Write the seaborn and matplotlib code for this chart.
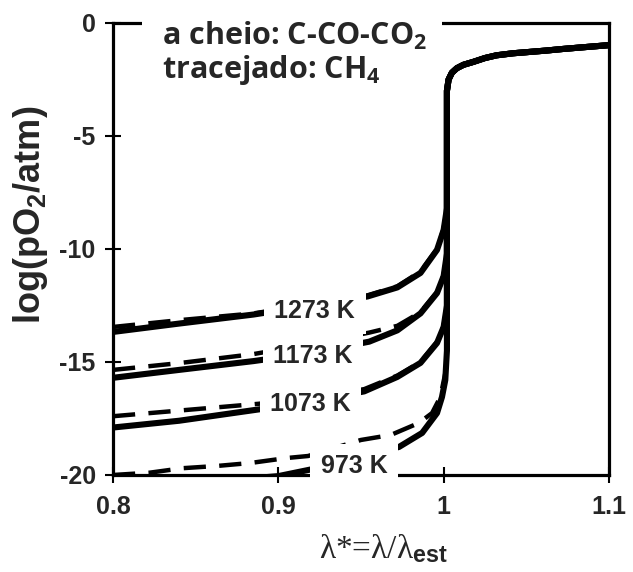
import numpy as np
import pandas as pd
import matplotlib
matplotlib.use("Agg")
import matplotlib.pyplot as plt
from matplotlib.patches import Rectangle
import seaborn as sns

# ---------------- DATOS ---------------- #
# lambda* y log(pO2), por temperatura
# rama comun para lambda* > 1
lam_sup = [1.002, 1.003, 1.005, 1.008, 1.012, 1.018, 1.025, 1.032, 1.042, 1.052, 1.062, 1.072, 1.085, 1.1]
log_sup = [-3.0, -2.5, -2.2, -2.0, -1.85, -1.72, -1.55, -1.43, -1.34, -1.28, -1.22, -1.15, -1.07, -0.98]

lam_1273 = [0.8, 0.84, 0.885, 0.92, 0.954, 0.972, 0.986, 0.996, 1.0, 1.002]
co_1273 = [-13.67, -13.3, -12.9, -12.5, -12.1, -11.7, -11.06, -10.04, -9.16, -8.2]
ch4_1273 = [-13.45, -13.15, -12.85, -12.45, -12.05, -11.65, -11.0, -10.0, -9.1, -8.2]

lam_1173 = [0.8, 0.84, 0.885, 0.92, 0.955, 0.972, 0.986, 0.996, 1.0, 1.002]
co_1173 = [-15.7, -15.35, -14.96, -14.6, -14.1, -13.6, -12.85, -11.95, -11.2, -10.2]
ch4_1173 = [-15.35, -15.05, -14.65, -14.2, -13.7, -13.4, -12.8, -11.9, -11.15, -10.2]

lam_1073 = [0.8, 0.84, 0.888, 0.92, 0.952, 0.972, 0.986, 0.996, 1.0, 1.002]
co_1073 = [-17.9, -17.6, -17.1, -16.75, -16.3, -15.66, -15.04, -14.16, -13.45, -12.5]
ch4_1073 = [-17.4, -17.15, -16.85, -16.6, -16.2, -15.6, -15.0, -14.1, -13.4, -12.5]

lam_973_co = [0.8, 0.85, 0.9, 0.92, 0.973, 0.987, 0.996, 0.999, 1.001, 1.002]
co_973 = [-20.5, -20.35, -20.05, -19.75, -18.76, -18.14, -17.26, -16.55, -15.8, -14.5]
lam_973_ch4 = [0.8, 0.822, 0.842, 0.863, 0.883, 0.905, 0.918, 0.95, 0.968, 0.985, 0.993, 0.998, 1.001, 1.002]
ch4_973 = [-20.0, -19.9, -19.7, -19.6, -19.47, -19.25, -19.16, -18.45, -18.23, -17.7, -17.26, -16.55, -15.5, -14.5]

etiquetas = ["1273 K", "1173 K", "1073 K", "973 K"]
pos_etiquetas = [(0.922, -12.75), (0.921, -14.73), (0.9195, -16.86), (0.9458, -19.62)]

series = [
    ("co", lam_1273, co_1273), ("ch4", lam_1273, ch4_1273),
    ("co", lam_1173, co_1173), ("ch4", lam_1173, ch4_1173),
    ("co", lam_1073, co_1073), ("ch4", lam_1073, ch4_1073),
    ("co", lam_973_co, co_973), ("ch4", lam_973_ch4, ch4_973),
]

# ---------------- ESTILO ---------------- #
sns.set_theme(style="ticks")
plt.rcParams["font.family"] = ["Liberation Sans", "DejaVu Sans"]
plt.rcParams["axes.unicode_minus"] = False
plt.rcParams["mathtext.fontset"] = "custom"
plt.rcParams["mathtext.bf"] = "Liberation Sans:bold"
plt.rcParams["mathtext.default"] = "regular"

fig = plt.figure(figsize=(6.33, 5.72), dpi=100)
ax = fig.add_axes([0.1785, 0.1696, 0.7835, 0.7902])

# ---------------- CURVAS ---------------- #
for gas, lam, logp in series:
    df = pd.DataFrame({"lam": list(lam) + lam_sup, "logp": list(logp) + log_sup})
    if gas == "co":
        sns.lineplot(data=df, x="lam", y="logp", ax=ax, color="black", lw=4.4,
                     sort=False, estimator=None)
    else:
        sns.lineplot(data=df, x="lam", y="logp", ax=ax, color="black", lw=3.2,
                     sort=False, estimator=None, dashes=False, linestyle=(0, (5, 3)))

for txt, (xp, yp) in zip(etiquetas, pos_etiquetas):
    ax.text(xp, yp, txt, ha="center", va="center", fontsize=18, fontweight="bold",
            zorder=6, clip_on=False,
            bbox=dict(boxstyle="square,pad=0.42", facecolor="white", edgecolor="none"))

# cuadro con el texto de la leyenda (tapa el borde superior)
ax.add_patch(Rectangle((0.0585, 0.84), 0.605, 0.18, transform=ax.transAxes,
                       facecolor="white", edgecolor="none", zorder=5, clip_on=False))
ax.text(0.0988, 0.951, "a cheio: C-CO-CO$_2$", transform=ax.transAxes, fontsize=22,
        fontweight="bold", family="Open Sans", va="baseline", zorder=6)
ax.text(0.0988, 0.878, "tracejado: CH$_4$", transform=ax.transAxes, fontsize=22,
        fontweight="bold", family="Open Sans", va="baseline", zorder=6)

# ---------------- EJES ---------------- #
ax.set_xlim(0.8, 1.1)
ax.set_ylim(-20, 0)
ax.set_xticks([0.8, 0.9, 1.0, 1.1])
ax.set_xticklabels(["0.8", "0.9", "1", "1.1"])
ax.set_yticks([0, -5, -10, -15, -20])
ax.set_yticklabels(["0", "-5", "-10", "-15", "-20"])
for lab in ax.get_xticklabels() + ax.get_yticklabels():
    lab.set_fontweight("bold")
    lab.set_fontsize(18)
for sp in ax.spines.values():
    sp.set_visible(True)
    sp.set_linewidth(2.3)
    sp.set_color("black")
ax.xaxis.set_ticks_position("bottom")
ax.yaxis.set_ticks_position("left")
ax.tick_params(which="major", direction="inout", length=11, width=1.5, color="black")
ax.tick_params(axis="x", pad=9)
ax.tick_params(axis="y", pad=7)

ax.set_ylabel("log(pO$_2$/atm)", fontsize=26, fontweight="bold", va="center")
ax.yaxis.set_label_coords(-0.167, 0.575)
ax.set_xlabel("λ*=λ/λ$_{\\mathbf{est}}$", fontsize=24, family=["Liberation Serif", "DejaVu Serif"],
              va="center")
ax.xaxis.set_label_coords(0.546, -0.164)

fig.savefig("out.png", dpi=100)
